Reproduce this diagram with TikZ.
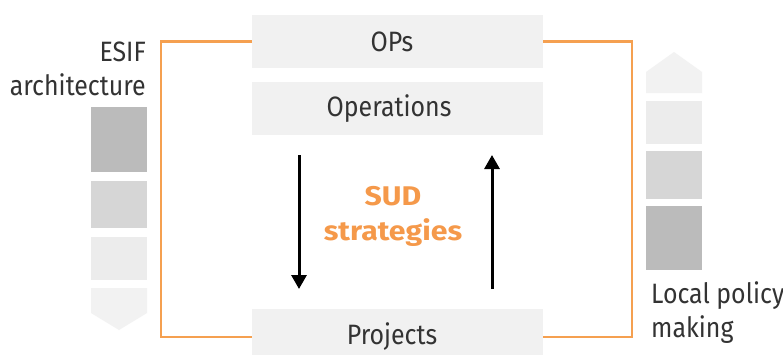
\documentclass[tikz,border=0pt]{standalone}
\usepackage{fontspec}
\setmainfont{Fira Sans}[FakeStretch=0.89]
\newfontfamily\sudfont{Fira Sans}[FakeStretch=1.12]
\usetikzlibrary{arrows.meta}
\definecolor{boxgray}{HTML}{F1F1F1}
\definecolor{gA}{HTML}{BBBBBB}
\definecolor{gB}{HTML}{D6D6D6}
\definecolor{gC}{HTML}{ECECEC}
\definecolor{gD}{HTML}{F2F2F2}
\definecolor{orng}{HTML}{F5A050}
\definecolor{orngtxt}{HTML}{F5994A}
\definecolor{txt}{HTML}{333333}
\tikzset{
  mainbox/.style={fill=boxgray, draw=none, minimum width=291pt, inner sep=0pt},
  lbl/.style={inner sep=0pt, text=txt, font=\fontsize{28}{34}\selectfont},
  sud/.style={inner sep=0pt, text=orngtxt, font=\sudfont\bfseries\fontsize{27}{34}\selectfont},
  orangeline/.style={draw=orng, line width=2.5pt},
  flow/.style={line width=3pt, -{Triangle[width=15pt,length=14pt]}},
  tile/.style={draw=none, inner sep=0pt, minimum width=56pt}
}
\begin{document}
\begin{tikzpicture}[x=1pt,y=-1pt]
\useasboundingbox[fill=white] (0,0) rectangle (783,354);
% main boxes
\node[mainbox, minimum height=53pt] (ops) at (397.5,41.5) {};
\node[mainbox, minimum height=53pt] (operations) at (397.5,108.5) {};
\node[mainbox, minimum height=56pt] (projects) at (397.5,337) {};
\node[lbl] (opsT) at (392,42) {OPs};
\node[lbl] (operationsT) at (389,108.5) {Operations};
\node[lbl] (projectsT) at (392,337) {Projects};
% orange frame
\draw[orangeline] (ops.west) -- (161,41.5) |- (projects.west);
\draw[orangeline] (ops.east) -- (632,41.5) |- (projects.east);
% left column
\node[tile, fill=gA, minimum height=65pt] (l1) at (119,139.5) {};
\node[tile, fill=gB, minimum height=47pt] (l2) at (119,204.5) {};
\node[tile, fill=gC, minimum height=43pt] (l3) at (119,258.5) {};
\fill[gD] (91,288) -- (147,288) -- (147,313) -- (119,330) -- (91,313) -- cycle;
% right column
\fill[gD] (646,93) -- (646,72) -- (674,52) -- (702,72) -- (702,93) -- cycle;
\node[tile, fill=gC, minimum height=43pt] (r1) at (674,122.5) {};
\node[tile, fill=gB, minimum height=48pt] (r2) at (674,175) {};
\node[tile, fill=gA, minimum height=64pt] (r3) at (674,238) {};
% labels
\node[lbl, anchor=base east] (esif1) at (146,61) {ESIF};
\node[lbl, anchor=base east] (esif2) at (146,95) {architecture};
\node[lbl, anchor=base west] (loc1) at (651,303) {Local policy};
\node[lbl, anchor=base west] (loc2) at (651,337) {making};
\node[sud, anchor=base] (sud1) at (393,205) {SUD};
\node[sud, anchor=base] (sud2) at (393,240) {strategies};
% arrows
\coordinate (dtop) at (299,155);
\coordinate (dbot) at (299,289);
\coordinate (ubot) at (492,289);
\coordinate (utop) at (492,155);
\draw[flow] (dtop) -- (dbot);
\draw[flow] (ubot) -- (utop);
\end{tikzpicture}
\end{document}
